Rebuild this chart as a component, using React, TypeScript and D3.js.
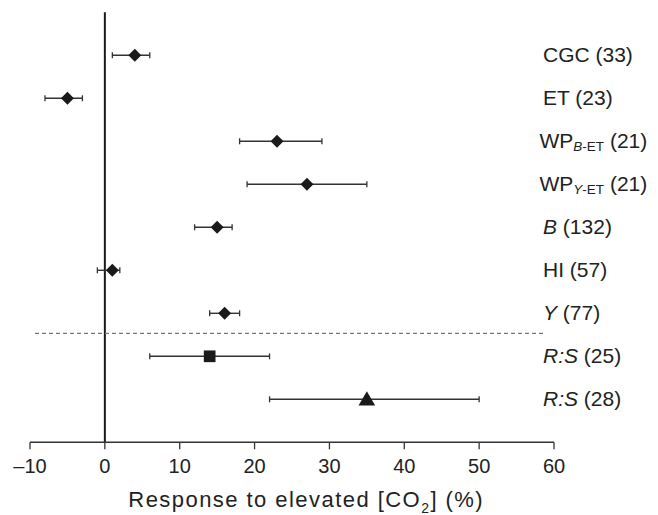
import React from 'react';
import * as d3 from 'd3';

// one row per trait, top to bottom
const traits = ['CGC', 'ET', 'WP', 'WP', 'B', 'HI', 'Y', 'R:S', 'R:S'];
const traitSubs = ['', '', 'B', 'Y', '', '', '', '', ''];
const italicTraits = [false, false, false, false, true, false, true, true, true];
const counts = [33, 23, 21, 21, 132, 57, 77, 25, 28];
const means = [4, -5, 23, 27, 15, 1, 16, 14, 35];
const lower = [1, -8, 18, 19, 12, -1, 14, 6, 22];
const upper = [6, -3, 29, 35, 17, 2, 18, 22, 50];
const markers = ['diamond', 'diamond', 'diamond', 'diamond', 'diamond', 'diamond', 'diamond', 'square', 'triangle'];
const xTicks = [-10, 0, 10, 20, 30, 40, 50, 60];

const W = 658;
const H = 515;
const font = '"Liberation Sans", Arial, Helvetica, sans-serif';

export default function App() {
    const x = d3.scaleLinear().domain([-10, 60]).range([30, 554]);
    const y = d3
        .scalePoint<number>()
        .domain(traits.map((d, i) => i))
        .range([12.3, 442.3])
        .padding(1);
    const axisY = 442.3;
    const ink = '#1a1a1a';

    const symbolPath = (kind: string) => {
        if (kind === 'square') return d3.symbol().type(d3.symbolSquare).size(137)();
        if (kind === 'triangle') return d3.symbol().type(d3.symbolTriangle).size(120)();
        return d3.symbol().type(d3.symbolSquare).size(84)();
    };

    // dashed separator between the diamonds and the R:S rows
    const sepY = ((y(6) as number) + (y(7) as number)) / 2 - 1.5;

    return (
        <svg width={W} height={H} style={{ position: 'absolute', left: 0, top: 0 }} fontFamily={font}>
            <rect width={W} height={H} fill="#fff" />

            {/* zero line */}
            <line x1={x(0)} x2={x(0)} y1={12.3} y2={axisY} stroke={ink} strokeWidth={2} />

            <line x1={35} x2={545} y1={sepY} y2={sepY} stroke="#777" strokeWidth={1.2} strokeDasharray="4,3" />

            {/* x axis */}
            <g>
                <line x1={x(-10)} x2={x(60)} y1={axisY} y2={axisY} stroke="#333" strokeWidth={1.5} />
                {xTicks.map((t) => (
                    <g key={t}>
                        <line x1={x(t)} x2={x(t)} y1={axisY} y2={axisY + 7} stroke="#333" strokeWidth={1.3} />
                        <text x={x(t)} y={472.7} textAnchor="middle" fontSize={20} fill="#222">
                            {t < 0 ? '\u2013' + Math.abs(t) : t}
                        </text>
                    </g>
                ))}
                <text x={128.3} y={507.3} fontSize={22} fill="#222" letterSpacing={1.45}>
                    Response to elevated [CO
                    <tspan fontSize={14} dy={5.5}>2</tspan>
                    <tspan dy={-5.5}>] (%)</tspan>
                </text>
            </g>

            {/* error bars and markers */}
            {traits.map((t, i) => {
                const cy = y(i) as number;
                return (
                    <g key={i}>
                        <line x1={x(lower[i])} x2={x(upper[i])} y1={cy} y2={cy} stroke="#333" strokeWidth={1.4} />
                        <line x1={x(lower[i])} x2={x(lower[i])} y1={cy - 3} y2={cy + 3} stroke="#333" strokeWidth={1.3} />
                        <line x1={x(upper[i])} x2={x(upper[i])} y1={cy - 3} y2={cy + 3} stroke="#333" strokeWidth={1.3} />
                        <path
                            d={symbolPath(markers[i]) as string}
                            transform={`translate(${x(means[i])},${markers[i] === 'triangle' ? cy + 1.5 : cy})${markers[i] === 'diamond' ? ' rotate(45)' : ''}`}
                            fill={ink}
                        />
                    </g>
                );
            })}

            {/* row labels */}
            {traits.map((t, i) => {
                const cy = y(i) as number;
                return (
                    <text key={i} x={i === 2 || i === 3 ? 539.5 : 543} y={cy + 7} fontSize={21} fill="#222">
                        <tspan fontStyle={italicTraits[i] ? 'italic' : 'normal'}>{t}</tspan>
                        {traitSubs[i] ? (
                            <>
                                <tspan fontSize={13.5} dy={3} fontStyle="italic">{traitSubs[i]}</tspan>
                                <tspan fontSize={13.5}>-ET</tspan>
                                <tspan dy={-3}>{' (' + counts[i] + ')'}</tspan>
                            </>
                        ) : (
                            <tspan>{' (' + counts[i] + ')'}</tspan>
                        )}
                    </text>
                );
            })}
        </svg>
    );
}
